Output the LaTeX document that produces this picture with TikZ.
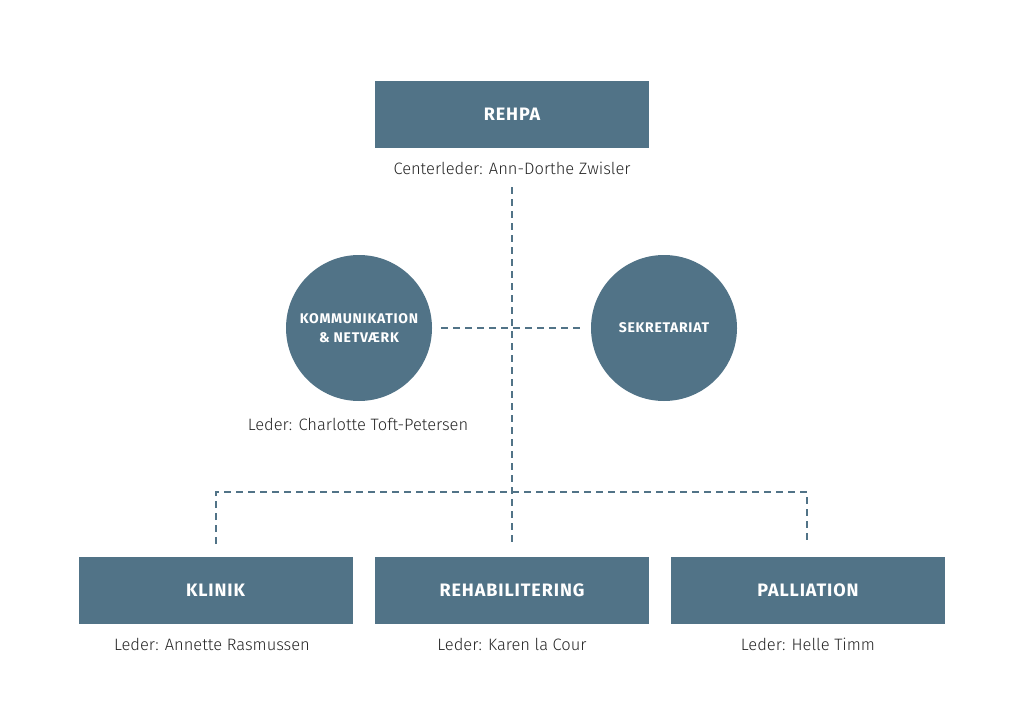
\documentclass[tikz,border=0pt]{standalone}
\usepackage{fontspec}
\setmainfont{Fira Sans}
\newfontfamily\lightfont{Fira Sans Light}
\newfontfamily\titlefont[LetterSpace=5]{Fira Sans Bold}
\definecolor{rblue}{RGB}{81,115,135}
\begin{document}
\begin{tikzpicture}[x=1pt,y=-1pt,
  box/.style={fill=rblue,minimum width=274pt,minimum height=67pt,inner sep=0pt,text=white,font=\titlefont\fontsize{18}{21}\selectfont},
  circ/.style={circle,fill=rblue,minimum size=146pt,inner sep=0pt,text=white,align=center,font=\titlefont\fontsize{14}{19}\selectfont},
  lab/.style={font=\lightfont\fontsize{16.5}{20}\selectfont,text=black!85,inner sep=0pt},
  dline/.style={draw=rblue,line width=2pt,dash pattern=on 7pt off 5pt}]
\useasboundingbox (0,0) rectangle (1024,722);
\node[box] (rehpa) at (512,114.5) {REHPA};
\node[lab] (rehpal) at (512,168) {Centerleder: Ann-Dorthe Zwisler};
\node[circ] (komm) at (359,328) {KOMMUNIKATION\\\& NETVÆRK};
\node[circ] (sekr) at (664,328) {SEKRETARIAT};
\node[lab] (komml) at (358,424) {Leder: Charlotte Toft-Petersen};
\node[box] (klinik) at (215.5,590) {KLINIK};
\node[box] (rehab) at (512,590) {REHABILITERING};
\node[box] (pall) at (808,590) {PALLIATION};
\node[lab] (klinikl) at (212,644) {Leder: Annette Rasmussen};
\node[lab] (rehabl) at (512,644) {Leder: Karen la Cour};
\node[lab] (palll) at (808,644) {Leder: Helle Timm};
\coordinate (vtop) at (512,187);
\coordinate (vbot) at (512,545);
\coordinate (hl) at (441,328);
\coordinate (hr) at (583,328);
\coordinate (bl) at (216,492);
\coordinate (br) at (807,492);
\coordinate (blb) at (216,544);
\coordinate (brb) at (807,544);
\draw[dline] (vtop) -- (vbot);
\draw[dline] (hl) -- (hr);
\draw[dline] (blb) -- (bl) -- (br) -- (brb);
\end{tikzpicture}
\end{document}
